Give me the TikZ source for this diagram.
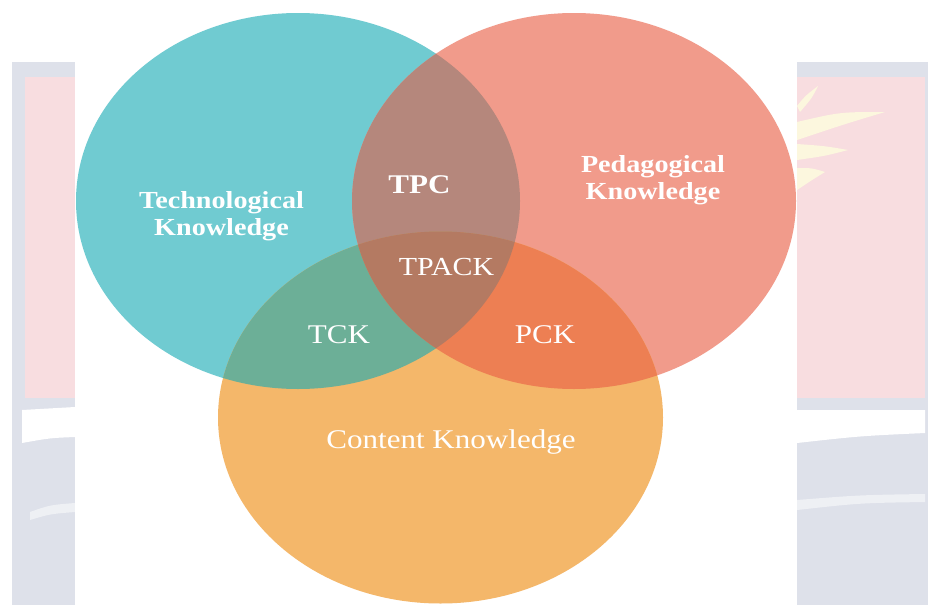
\documentclass[tikz,border=0pt]{standalone}
\usepackage{fontspec}
\newfontfamily\lblfont{Liberation Serif}[FakeStretch=1.15]

% circle fills
\definecolor{techc}{RGB}{112,203,209}
\definecolor{pedc}{RGB}{241,155,139}
\definecolor{contc}{RGB}{244,183,106}
% overlap fills
\definecolor{tpc}{RGB}{181,135,124}
\definecolor{tck}{RGB}{108,175,151}
\definecolor{pck}{RGB}{237,127,83}
\definecolor{tpack}{RGB}{180,122,98}
% faded backdrop
\definecolor{wmgrey}{RGB}{222,225,234}
\definecolor{wmpink}{RGB}{248,221,224}
\definecolor{wmyellow}{RGB}{252,247,222}

\tikzset{
  lbl/.style={text=white, inner sep=0pt, anchor=base, align=center},
  boldlbl/.style={lbl, font=\lblfont\fontsize{24.5}{27}\selectfont\bfseries},
  biglbl/.style={lbl, font=\lblfont\fontsize{27}{30}\selectfont},
}

\begin{document}
\begin{tikzpicture}[x=1pt,y=-1pt]
\useasboundingbox (0,0) rectangle (928,605);
\fill[white] (0,0) rectangle (928,605);

% ---- faded backdrop panels ----
% left panel
\fill[wmgrey] (12,62) rectangle (75,605);
\fill[wmpink] (25,77) rectangle (75,398);
\fill[white] (22,410) -- (75,407) -- (75,437) .. controls (50,438) .. (22,443) -- cycle;
\fill[white, opacity=0.5] (75,503) .. controls (50,505) .. (30,512) -- (30,520) .. controls (50,514) .. (75,512) -- cycle;
% right panel
\fill[wmgrey] (797,62) rectangle (928,605);
\fill[wmpink] (797,77) rectangle (925,398);
\fill[white] (797,410) -- (925,410) -- (925,433) .. controls (860,436) .. (797,443) -- cycle;
\fill[white, opacity=0.5] (797,500) .. controls (860,495) .. (925,494) -- (925,502) .. controls (860,503) .. (797,510) -- cycle;
% pale flame streaks
\fill[wmyellow] (797,106) .. controls (805,96) .. (818,86) .. controls (812,98) .. (800,112) -- cycle;
\fill[wmyellow] (797,122) .. controls (840,112) .. (885,112) .. controls (845,124) .. (797,140) -- cycle;
\fill[wmyellow] (797,144) .. controls (825,146) .. (848,150) .. controls (825,156) .. (797,160) -- cycle;
\fill[wmyellow] (797,168) .. controls (812,168) .. (825,172) .. controls (812,180) .. (797,190) -- cycle;

% ---- central sheet ----
\fill[white] (75,0) rectangle (797,605);

% ---- the three knowledge domains ----
\def\techE{(298,201) ellipse [x radius=222pt, y radius=188pt]}
\def\pedE{(574,201) ellipse [x radius=222pt, y radius=188pt]}
\def\contE{(440.5,417.5) ellipse [x radius=222.5pt, y radius=186pt]}

\fill[techc] \techE;
\fill[pedc] \pedE;
\fill[contc] \contE;

% pairwise overlaps
\begin{scope}
  \clip \techE;
  \fill[tpc] \pedE;
  \fill[tck] \contE;
\end{scope}
\begin{scope}
  \clip \pedE;
  \fill[pck] \contE;
\end{scope}
% triple overlap
\begin{scope}
  \clip \techE;
  \clip \pedE;
  \fill[tpack] \contE;
\end{scope}

% ---- labels (two-line labels sit on the baseline of their last line) ----
\node[boldlbl] (tk) at (221.5,235) {Technological\\Knowledge};
\node[boldlbl] (pk) at (653,199) {Pedagogical\\Knowledge};
\node[lbl, font=\lblfont\fontsize{27}{30}\selectfont\bfseries] (tpcl) at (419.5,193) {TPC};
\node[lbl, font=\lblfont\fontsize{26}{30}\selectfont] (tpackl) at (446.5,275) {TPACK};
\node[biglbl] (tckl) at (339,343) {TCK};
\node[biglbl] (pckl) at (545,343) {PCK};
\node[biglbl] (ckl) at (451,448) {Content Knowledge};
\end{tikzpicture}
\end{document}
